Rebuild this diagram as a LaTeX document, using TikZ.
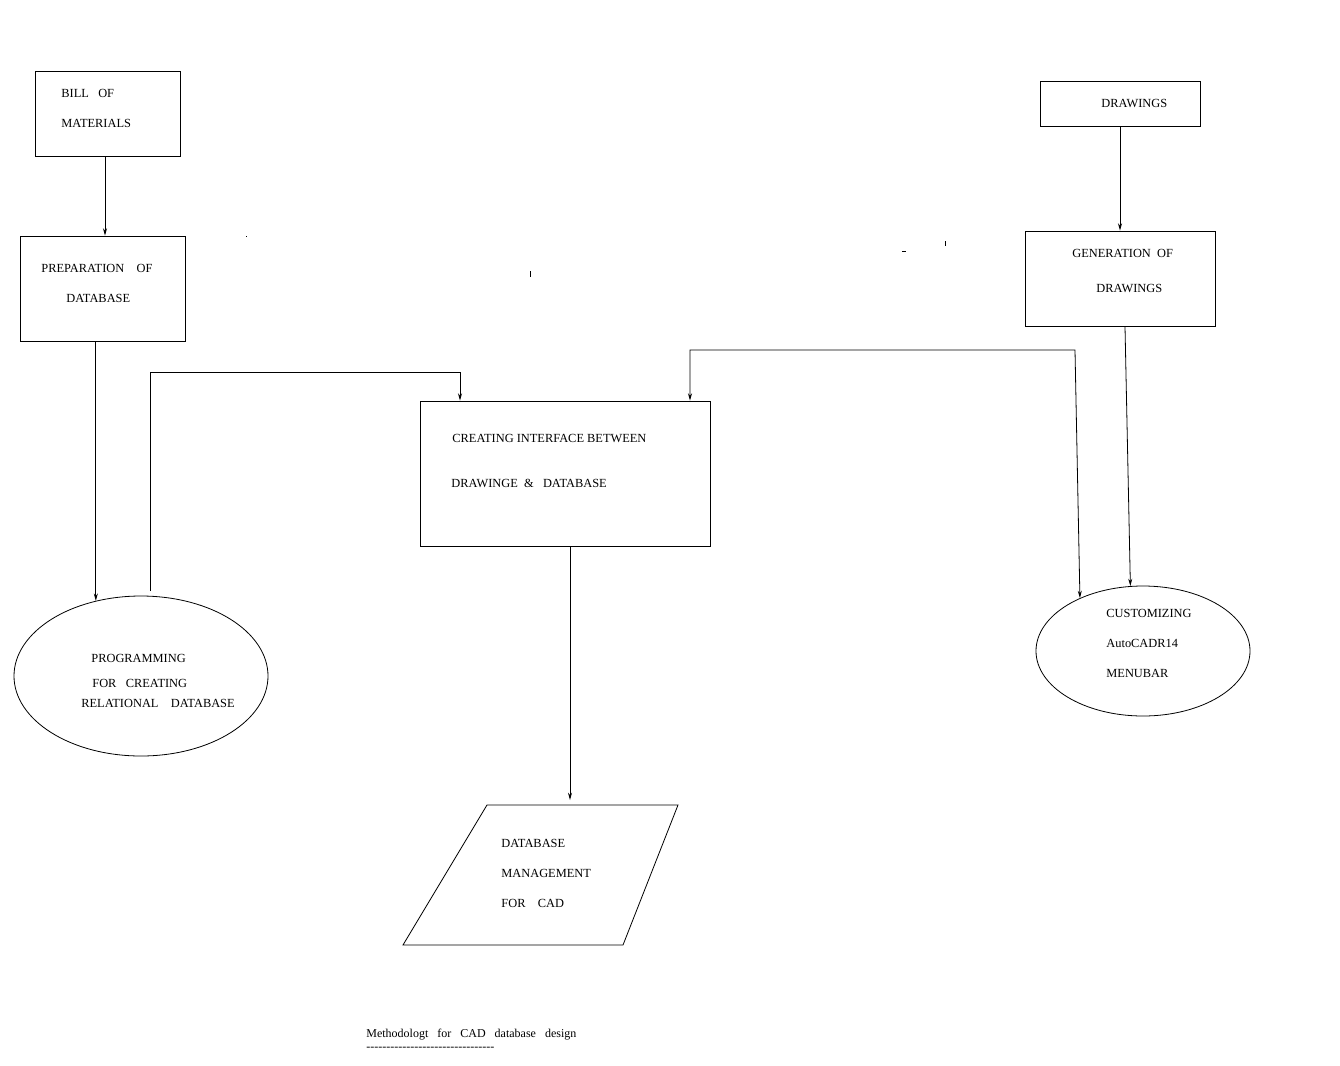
\documentclass[tikz,border=0pt]{standalone}
\usepackage{fontspec}
\setmainfont{Liberation Serif}
\usetikzlibrary{arrows.meta,shapes.geometric}
\begin{document}
\begin{tikzpicture}[x=0.75pt,y=-0.75pt,
  line width=0.6pt,
  box/.style={draw,inner sep=0pt},
  oval/.style={draw,ellipse,inner sep=0pt},
  lbl/.style={anchor=base west,inner sep=0pt,font=\fontsize{9.3}{11}\selectfont},
  caplbl/.style={lbl,font=\fontsize{9}{11}\selectfont},
  arr/.style={-{Stealth[length=5.5pt,width=3pt]}},
  arrtwo/.style={{Stealth[length=5.5pt,width=3pt]}-{Stealth[length=5.5pt,width=3pt]}}]
\useasboundingbox (0,0) rectangle (1340,1065);

% boxes
\node[box,minimum width=108.75pt,minimum height=63.75pt] (bom) at (107.5,113.5) {};
\node[box,minimum width=123.75pt,minimum height=78.75pt] (prep) at (102.5,288.5) {};
\node[box,minimum width=217.5pt,minimum height=108.75pt] (iface) at (565,473.5) {};
\node[box,minimum width=120pt,minimum height=33.75pt] (drw) at (1120,103.5) {};
\node[box,minimum width=142.5pt,minimum height=71.25pt] (gen) at (1120,278.5) {};
\node[oval,minimum width=190.5pt,minimum height=120pt] (prog) at (141,676) {};
\node[oval,minimum width=160.5pt,minimum height=97.5pt] (cust) at (1143,651) {};

% parallelogram
\coordinate (q1) at (487,805);
\coordinate (q2) at (678,805);
\coordinate (q3) at (623,945);
\coordinate (q4) at (403,945);
\draw (q1) -- (q2) -- (q3) -- (q4) -- cycle;

% texts
\node[lbl] (t1) at (61,97) {BILL\ \ \ OF};
\node[lbl] (t2) at (61,127) {MATERIALS};
\node[lbl] (t3) at (41,272) {PREPARATION\ \ \ \ OF};
\node[lbl] (t4) at (66,302) {DATABASE};
\node[lbl] (t5) at (91,662) {PROGRAMMING};
\node[lbl] (t6) at (92,687) {FOR\ \ \ CREATING};
\node[lbl] (t7) at (81,707) {RELATIONAL\ \ \ \ DATABASE};
\node[lbl] (t8) at (452,442) {CREATING INTERFACE BETWEEN};
\node[lbl] (t9) at (451,487) {DRAWINGE\ \ \&\ \ \ DATABASE};
\node[lbl] (t10) at (501,847) {DATABASE};
\node[lbl] (t11) at (501,877) {MANAGEMENT};
\node[lbl] (t12) at (501,907) {FOR\ \ \ \ CAD};
\node[lbl] (t13) at (1101,107) {DRAWINGS};
\node[lbl] (t14) at (1072,257) {GENERATION\ \ OF};
\node[lbl] (t15) at (1096,292) {DRAWINGS};
\node[lbl] (t16) at (1106,617) {CUSTOMIZING};
\node[lbl] (t17) at (1106,647) {AutoCADR14};
\node[lbl] (t18) at (1106,677) {MENUBAR};
\def\hy{-\kern0pt}
\node[caplbl] (cap) at (366,1037) {Methodologt\ \ \ for\ \ \ CAD\ \ \ database\ \ \ design};
\node[caplbl] (capline) at (366,1050) {\hy\hy\hy\hy\hy\hy\hy\hy\hy\hy\hy\hy\hy\hy\hy\hy\hy\hy\hy\hy\hy\hy\hy\hy\hy\hy\hy\hy\hy\hy\hy\hy};

% connectors
\draw[arr] ([xshift=-1.875pt]bom.south) -- ([xshift=-1.875pt]bom.south |- prep.north);
\draw[arr] (prog.121.7 |- prep.south) -- (prog.121.7);
\coordinate (ptop) at (150,591);
\coordinate (ibend) at (460,372);
\draw[arr] (ptop) |- (ibend) -- (ibend |- iface.north);
\coordinate (rb) at (1075,350);
\coordinate (lb) at (690,350);
\draw[arrtwo] (cust.140.2) -- (rb) -- (lb) -- (lb |- iface.north);
\coordinate (dtop) at (570,800);
\draw[arr] (iface.south -| dtop) -- (dtop);
\draw[arr] (drw) -- (gen);
\draw[arr] ([xshift=3.75pt]gen.south) -- (cust.101.4);

% stray marks
\draw[line width=0.5pt] (246,236) -- (247,236);
\draw[line width=0.5pt] (530,271) -- (530,277);
\draw[line width=0.5pt] (902,251) -- (906,251);
\draw[line width=0.5pt] (945,241) -- (945,246);
\end{tikzpicture}
\end{document}
